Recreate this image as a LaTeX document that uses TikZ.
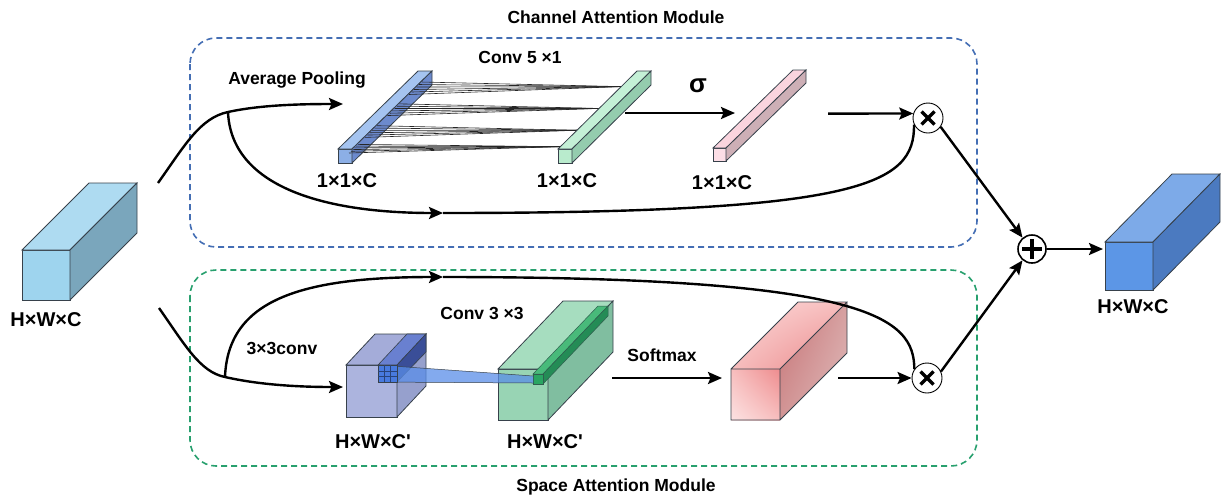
\documentclass[tikz,border=0pt]{standalone}
\usepackage{fontspec}
\setmainfont{Liberation Sans}
\usetikzlibrary{arrows.meta,calc,shadings}

\definecolor{edge}{RGB}{55,65,75}
\definecolor{cablue}{RGB}{68,110,180}
\definecolor{sagreen}{RGB}{40,160,110}
% input / output tensors
\definecolor{inF}{RGB}{158,212,238}\definecolor{inT}{RGB}{174,219,241}\definecolor{inS}{RGB}{122,166,188}
\definecolor{outF}{RGB}{92,150,230}\definecolor{outT}{RGB}{125,170,232}\definecolor{outS}{RGB}{75,122,192}
% channel branch vectors
\definecolor{bvF}{RGB}{140,175,230}\definecolor{bvT}{RGB}{165,196,240}\definecolor{bvS}{RGB}{108,138,205}
\definecolor{gvF}{RGB}{185,235,205}\definecolor{gvT}{RGB}{196,240,214}\definecolor{gvS}{RGB}{148,204,174}
\definecolor{pvF}{RGB}{252,222,230}\definecolor{pvT}{RGB}{250,212,222}\definecolor{pvS}{RGB}{205,175,182}
% spatial branch tensors
\definecolor{puF}{RGB}{172,180,222}\definecolor{puT}{RGB}{164,172,217}\definecolor{puS}{RGB}{150,160,205}
\definecolor{slT}{RGB}{105,128,208}\definecolor{slS}{RGB}{58,78,152}
\definecolor{grid}{RGB}{72,122,222}\definecolor{wedge}{RGB}{90,142,232}
\definecolor{grF}{RGB}{152,212,180}\definecolor{grT}{RGB}{166,221,191}\definecolor{grS}{RGB}{128,190,160}
\definecolor{stT}{RGB}{72,186,122}\definecolor{stS}{RGB}{36,140,86}\definecolor{stF}{RGB}{42,165,98}
% softmax output shades
\definecolor{rA}{RGB}{252,226,226}\definecolor{rB}{RGB}{247,190,190}\definecolor{rC}{RGB}{238,140,142}
\definecolor{rD}{RGB}{232,130,132}\definecolor{rE}{RGB}{252,214,214}
\definecolor{rS1}{RGB}{198,112,116}\definecolor{rS2}{RGB}{214,160,160}\definecolor{rS3}{RGB}{210,150,150}\definecolor{rS4}{RGB}{224,188,188}

% #1,#2 front top-left corner, #3 width, #4 height, (#5,#6) depth offset, #7-#9 front/top/side fills
\newcommand\cuboid[9]{%
  \filldraw[fill=#7,draw=edge,line width=0.8pt] (#1,#2) rectangle ++(#3,#4);
  \filldraw[fill=#8,draw=edge,line width=0.8pt] (#1,#2) -- ++(#5,#6) -- ++(#3,0) -- ++({-(#5)},{-(#6)}) -- cycle;
  \filldraw[fill=#9,draw=edge,line width=0.8pt] ({#1+#3},#2) -- ++(#5,#6) -- ++(0,#4) -- ++({-(#5)},{-(#6)}) -- cycle;
}

\tikzset{
  lbl/.style={font=\bfseries\fontsize{17.5}{20}\selectfont, inner sep=0},
  dimlbl/.style={font=\bfseries\fontsize{20}{23}\selectfont, inner sep=0},
  flow/.style={line width=2.4pt, -{Stealth[length=14pt,width=12pt,inset=2.5pt]}},
  plainflow/.style={line width=2.4pt},
  cabox/.style={draw=cablue, line width=1.6pt, dash pattern=on 6pt off 4pt, rounded corners=26pt},
  sabox/.style={draw=sagreen, line width=1.6pt, dash pattern=on 6pt off 4pt, rounded corners=26pt},
  opnode/.style={circle, draw, line width=0.9pt, minimum size=30pt, inner sep=0pt, fill=white},
  addnode/.style={circle, draw, line width=1.6pt, minimum size=28pt, inner sep=0pt, fill=white},
  fan/.style={line width=0.6pt, draw=black!85},
  opsign/.style={line width=3.4pt},
}

\begin{document}
\begin{tikzpicture}[x={(1pt,0)}, y={(0,-1pt)}]
\useasboundingbox (0,0) rectangle (1223,499);

% module frames
\draw[cabox] (190,38) rectangle (977,247);
\draw[sabox] (190,270) rectangle (977,466);
\node[lbl] (catitle) at (616,17) {Channel Attention Module};
\node[lbl] (satitle) at (616,487) {Space Attention Module};

% input and output feature maps
\cuboid{22}{250}{48}{50}{67}{-67}{inF}{inT}{inS}
\node[dimlbl] (inlbl) at (46,320) {H×W×C};
\cuboid{1105}{242}{48}{48}{67}{-68}{outF}{outT}{outS}
\node[dimlbl] (outlbl) at (1133,307) {H×W×C};

% ---- channel attention ----
\cuboid{338}{149}{14}{14}{80}{-78}{bvF}{bvT}{bvS}
\foreach \t/\lo/\hi in {0.80/0.75/0.91, 0.52/0.48/0.63, 0.24/0.20/0.35, 0.03/0.0/0.11} {
  \foreach \i in {0,...,5} {
    \pgfmathsetmacro\s{\lo+\i*(\hi-\lo)/5}
    \draw[fan] ({352+80*\s-3},{149-78*\s+4}) -- ({558+79*\t},{149-78*\t});
  }
}
\cuboid{558}{149}{14}{14}{79}{-78}{gvF}{gvT}{gvS}
\cuboid{713}{148}{13}{13}{80}{-78}{pvF}{pvT}{pvS}

\node[lbl] (avglbl) at (297,80) {Average Pooling};
\node[lbl] (conv5) at (520,57) {Conv 5 ×1};
\node[font=\bfseries\fontsize{26}{28}\selectfont, inner sep=0] (sig) at (698,86) {σ};
\node[dimlbl] (v1lbl) at (347,181) {1×1×C};
\node[dimlbl] (v2lbl) at (567,181) {1×1×C};
\node[dimlbl] (v3lbl) at (722,183) {1×1×C};

\node[opnode] (m1) at (928,118) {};
\draw[opsign] ($(m1)+(-6.5,-6.5)$) -- ($(m1)+(6.5,6.5)$);
\draw[opsign] ($(m1)+(-6.5,6.5)$) -- ($(m1)+(6.5,-6.5)$);

\coordinate (inA) at (158,183);
\coordinate (brA) at (228,112);
\coordinate (poolEnd) at (343,104);
\coordinate (caMid) at (443,213);
\coordinate (convOut) at (625,113);
\coordinate (sigEnd) at (735,113);
\coordinate (pinkOut) at (828,113.6);

\draw[plainflow] (inA) .. controls (185,145) and (200,118) .. (brA);
\draw[flow] (brA) .. controls (260,105) and (300,104) .. (poolEnd);
\draw[flow] (brA) .. controls (231,185) and (320,213) .. (caMid);
\draw[plainflow] (caMid) .. controls (860,213) and (915,185) .. (m1.205);
\draw[flow] (convOut) -- (sigEnd);
\draw[flow] (pinkOut) -- (m1.163);

% ---- spatial attention ----
\cuboid{346}{365}{51}{52}{29}{-31}{puF}{puT}{puS}
\filldraw[fill=slT,draw=edge,line width=0.6pt] (378,365) -- (397,365) -- (426,334) -- (407,334) -- cycle;
\filldraw[fill=slS,draw=edge,line width=0.6pt] (397,365) -- (426,334) -- (426,352) -- (397,382) -- cycle;

\cuboid{498}{369}{50}{51}{65}{-68}{grF}{grT}{grS}
\filldraw[fill=stT,draw=edge!60!stS,line width=0.5pt] (533,374) -- (543,374) -- (608,306) -- (598,306) -- cycle;
\filldraw[fill=stS,draw=edge!60!stS,line width=0.5pt] (543,374) -- (608,306) -- (608,316) -- (543,384) -- cycle;
\filldraw[fill=stF,draw=edge!60!stS,line width=0.5pt] (533,374) rectangle (543,384);

\fill[wedge,opacity=0.75] (378,365) -- (533,376) -- (533,383) -- (378,382) -- cycle;
\draw[edge,line width=0.5pt] (378,365) -- (533,376) (378,382) -- (533,383);
\filldraw[fill=grid,draw=edge,line width=0.6pt] (378,365) rectangle (397,382);
\draw[draw=black!45!grid,line width=0.4pt] (384.3,365) -- (384.3,382) (390.6,365) -- (390.6,382)
  (378,370.7) -- (397,370.7) (378,376.3) -- (397,376.3);

% softmax output with soft red shading
\shade[upper left=rB, upper right=rC, lower left=rA, lower right=rB]
  (731,369) rectangle ++(49,51);
\shade[upper left=rE, upper right=rB, lower left=rB, lower right=rD]
  (731,369) -- ++(67,-67) -- ++(49,0) -- ++(-67,67) -- cycle;
\shade[upper left=rS1, upper right=rS2, lower left=rS3, lower right=rS4]
  (780,369) -- ++(67,-67) -- ++(0,51) -- ++(-67,67) -- cycle;
\draw[edge,line width=0.8pt] (731,369) rectangle ++(49,51)
  (731,369) -- ++(67,-67) -- ++(49,0) -- ++(-67,67)
  (847,302) -- ++(0,51) -- ++(-67,67);

\node[lbl] (c3lbl) at (282,348) {3×3conv};
\node[lbl] (conv3) at (482,313) {Conv 3 ×3};
\node[lbl] (smlbl) at (662,355) {Softmax};
\node[dimlbl] (pulbl) at (373,442) {H×W×C\textquotesingle};
\node[dimlbl] (grlbl) at (545,442) {H×W×C\textquotesingle};

\node[opnode] (m2) at (927,378) {};
\draw[opsign] ($(m2)+(-6.5,-6.5)$) -- ($(m2)+(6.5,6.5)$);
\draw[opsign] ($(m2)+(-6.5,6.5)$) -- ($(m2)+(6.5,-6.5)$);

\coordinate (inB) at (159,308);
\coordinate (brB) at (225,377);
\coordinate (convIn) at (343,387);
\coordinate (saMid) at (443,277);
\coordinate (greenOut) at (612,378);
\coordinate (smEnd) at (722,378);
\coordinate (redOut) at (838,378);

\draw[plainflow] (inB) .. controls (185,345) and (200,372) .. (brB);
\draw[flow] (brB) .. controls (260,385) and (300,387) .. (convIn);
\draw[flow] (brB) .. controls (228,300) and (300,277) .. (saMid);
\draw[plainflow] (saMid) .. controls (870,277) and (914,318) .. (m2.145);
\draw[flow] (greenOut) -- (smEnd);
\draw[flow] (redOut) -- (m2.west);

% fusion
\node[addnode] (pl) at (1032,249) {};
\draw[line width=3.8pt] ($(pl)+(-10,0)$) -- ($(pl)+(10,0)$) ($(pl)+(0,-10)$) -- ($(pl)+(0,10)$);
\coordinate (outIn) at (1103,249);
\draw[flow] (m1.-35) -- (pl.130);
\draw[flow] (m2.25) -- (pl.230);
\draw[flow] (pl.east) -- (outIn);
\end{tikzpicture}
\end{document}
